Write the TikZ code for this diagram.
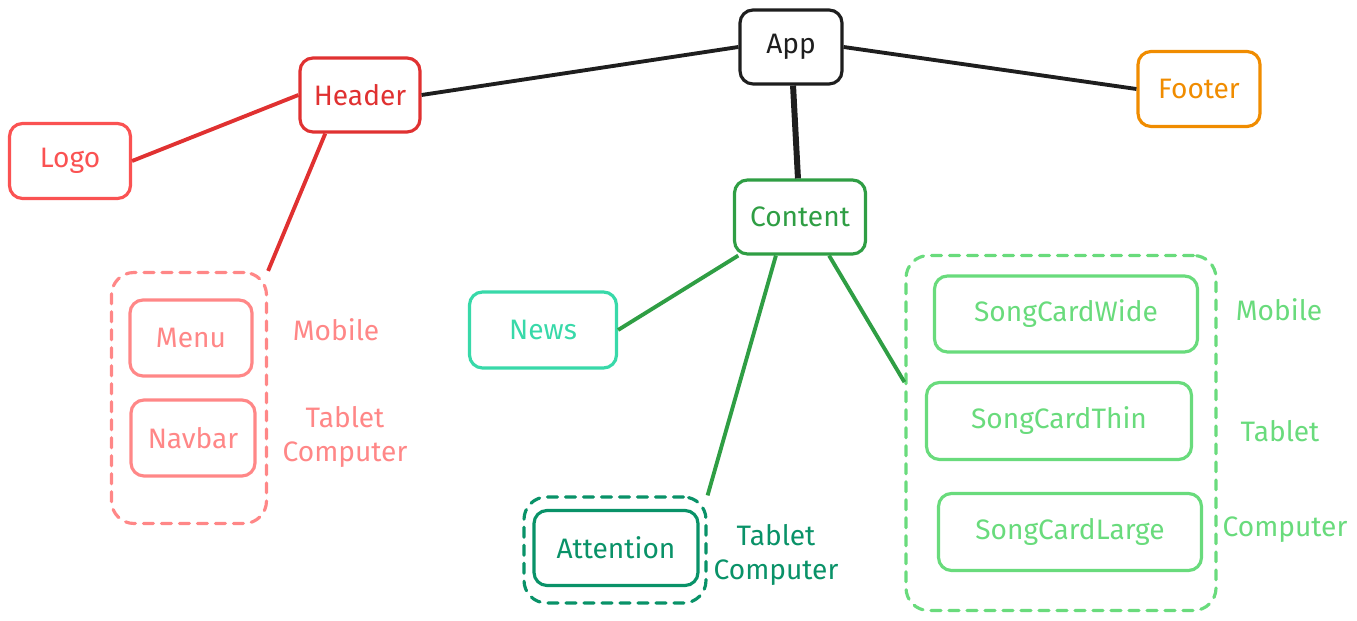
\documentclass[tikz,border=0pt]{standalone}
\usepackage{fontspec}
\setmainfont{Fira Sans}
\usepackage{tikz}
\usetikzlibrary{positioning,calc}
\definecolor{appcolor}{HTML}{1E1E1E}
\definecolor{headercolor}{HTML}{E03131}
\definecolor{logocolor}{HTML}{FA5252}
\definecolor{mobilecolor}{HTML}{FF8787}
\definecolor{footercolor}{HTML}{F08C00}
\definecolor{contentcolor}{HTML}{2F9E44}
\definecolor{newscolor}{HTML}{38D9A9}
\definecolor{attncolor}{HTML}{099268}
\definecolor{songcolor}{HTML}{69DB7C}

\begin{document}
\begin{tikzpicture}[
  comp/.style={rectangle, draw, rounded corners=0.26cm, line width=1.8pt,
    inner sep=0pt, minimum height=1.5cm, align=center},
  group/.style={rectangle, draw, rounded corners=0.45cm, line width=1.8pt,
    dash pattern=on 0.2cm off 0.16cm, line cap=round, inner sep=0pt},
  link/.style={line width=2.2pt},
  tag/.style={align=center, inner sep=0pt},
  every node/.style={font=\fontsize{16}{19}\selectfont}
]
  \useasboundingbox (0,0) rectangle (27.14,12.42);

  % Root and top level
  \node[comp, appcolor, minimum width=2.04cm, minimum height=1.48cm] (app) at (15.82,11.48) {App};
  \node[comp, headercolor, minimum width=2.4cm, minimum height=1.48cm] (header) at (7.20,10.52) {Header};
  \node[comp, footercolor, minimum width=2.44cm] (footer) at (23.98,10.64) {Footer};
  \node[comp, contentcolor, minimum width=2.62cm, minimum height=1.48cm] (content) at (16.00,8.08) {Content};

  % Header children
  \node[comp, logocolor, minimum width=2.42cm] (logo) at (1.40,9.20) {Logo};
  \node[group, mobilecolor, minimum width=3.10cm, minimum height=5.02cm] (navgroup) at (3.78,4.46) {};
  \node[comp, mobilecolor, minimum width=2.44cm, minimum height=1.52cm] (menu) at (3.82,5.66) {Menu};
  \node[comp, mobilecolor, minimum width=2.48cm, minimum height=1.52cm] (navbar) at (3.86,3.66) {Navbar};
  \node[tag, mobilecolor] (menutag) at (6.72,5.82) {Mobile};
  \node[tag, mobilecolor] (navbartag) at (6.90,3.68) {Tablet\\Computer};

  % Content children
  \node[comp, newscolor, minimum width=2.94cm, minimum height=1.52cm] (news) at (10.86,5.82) {News};
  \node[group, attncolor, minimum width=3.64cm, minimum height=2.12cm] (attngroup) at (12.30,1.42) {};
  \node[comp, attncolor, minimum width=3.28cm] (attn) at (12.32,1.46) {Attention};
  \node[tag, attncolor] (attntag) at (15.52,1.32) {Tablet\\Computer};

  % Song cards
  \node[group, songcolor, minimum width=6.20cm, minimum height=7.10cm] (songgroup) at (21.22,3.76) {};
  \node[comp, songcolor, minimum width=5.26cm, minimum height=1.52cm] (wide) at (21.32,6.14) {SongCardWide};
  \node[comp, songcolor, minimum width=5.30cm, minimum height=1.54cm] (thin) at (21.18,4.00) {SongCardThin};
  \node[comp, songcolor, minimum width=5.26cm, minimum height=1.54cm] (large) at (21.40,1.78) {SongCardLarge};
  \node[tag, songcolor] (widetag) at (25.58,6.22) {Mobile};
  \node[tag, songcolor] (thintag) at (25.60,3.80) {Tablet};
  \node[tag, songcolor] (largetag) at (25.70,1.82) {Computer};

  % Connectors
  \draw[link, appcolor] (app.west) -- (header.east);
  \draw[link, appcolor] (app.east) -- (footer.west);
  \draw[link, appcolor, line width=3.4pt] (app) -- (content);
  \draw[link, headercolor] (header.west) -- (logo.east);
  \draw[link, headercolor] (header.228) -- (navgroup.north east);
  \draw[link, contentcolor] (content.212) -- (news.east);
  \draw[link, contentcolor] (content.238) -- (attngroup.north east);
  \draw[link, contentcolor] (content.307) -- (songgroup.162);
\end{tikzpicture}
\end{document}
